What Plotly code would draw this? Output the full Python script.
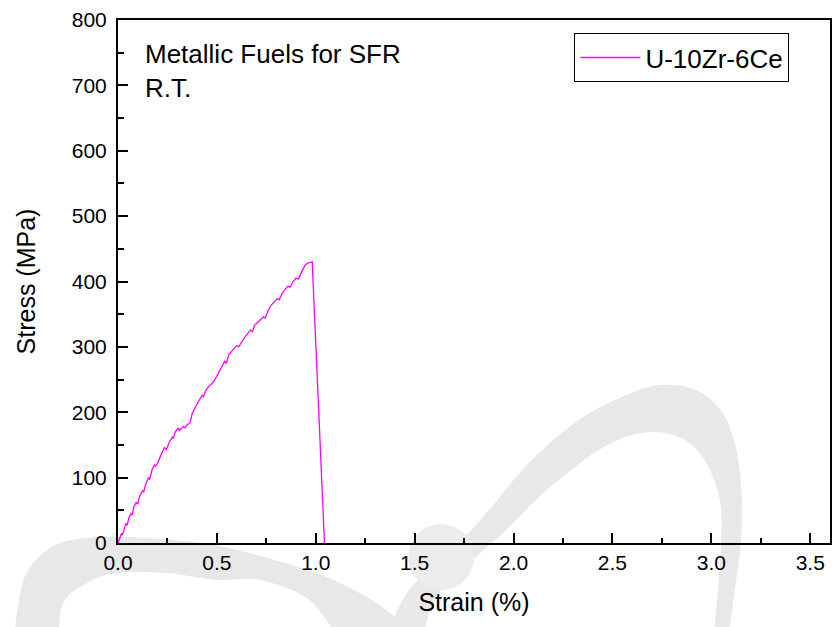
import plotly.graph_objects as go

# ---------------- data ----------------
strain = [0.000, 0.010, 0.018, 0.022, 0.030, 0.040, 0.046, 0.055, 0.065, 0.072,
          0.080, 0.092, 0.100, 0.110, 0.125, 0.130, 0.140, 0.155, 0.160, 0.172,
          0.185, 0.190, 0.200, 0.210, 0.222, 0.235, 0.245, 0.260, 0.275, 0.280,
          0.290, 0.305, 0.310, 0.330, 0.340, 0.350, 0.365, 0.375, 0.385, 0.395,
          0.410, 0.425, 0.432, 0.445, 0.460, 0.475, 0.490, 0.505, 0.520, 0.540,
          0.548, 0.560, 0.580, 0.600, 0.610, 0.625, 0.640, 0.655, 0.670, 0.680,
          0.690, 0.705, 0.720, 0.735, 0.745, 0.760, 0.775, 0.790, 0.805, 0.815,
          0.830, 0.845, 0.860, 0.870, 0.885, 0.900, 0.912, 0.925, 0.935, 0.945,
          0.960, 0.975, 0.982, 1.044]
stress = [0, 8, 15, 12, 22, 30, 27, 38, 45, 43,
          55, 62, 60, 72, 80, 78, 90, 100, 97, 112,
          120, 117, 122, 130, 138, 146, 143, 155, 162, 160,
          170, 176, 172, 178, 176, 181, 184, 198, 203, 210,
          218, 226, 224, 234, 240, 244, 250, 258, 266, 278,
          275, 288, 295, 302, 300, 308, 314, 320, 326, 323,
          333, 337, 341, 346, 344, 356, 364, 369, 374, 372,
          382, 388, 393, 391, 400, 405, 404, 412, 420, 425,
          428, 430, 430, 0]

series_name = "U-10Zr-6Ce"
x_ticks = [0.0, 0.5, 1.0, 1.5, 2.0, 2.5, 3.0, 3.5]
y_ticks = [0, 100, 200, 300, 400, 500, 600, 700, 800]

# ---------------- layout geometry ----------------
W, H = 834, 627
L, R, T, B = 118, 2, 20, 84
PW, PH = W - L - R, H - T - B

def to_paper(pts):
    return [((px - L) / PW, (T + PH - py) / PH) for px, py in pts]

def smooth_path(pts):
    p = to_paper(pts)
    n = len(p)
    d = f"M {p[0][0]:.4f},{p[0][1]:.4f}"
    for i in range(n):
        p0, p1, p2, p3 = p[(i - 1) % n], p[i], p[(i + 1) % n], p[(i + 2) % n]
        c1 = (p1[0] + (p2[0] - p0[0]) / 6, p1[1] + (p2[1] - p0[1]) / 6)
        c2 = (p2[0] - (p3[0] - p1[0]) / 6, p2[1] - (p3[1] - p1[1]) / 6)
        d += f" C {c1[0]:.4f},{c1[1]:.4f} {c2[0]:.4f},{c2[1]:.4f} {p2[0]:.4f},{p2[1]:.4f}"
    return d + " Z"

# watermark (faint logo) outlines in pixel space
orbit_right = [(385, 650), (405, 597), (435, 565), (460, 543), (490, 510), (530, 463),
               (580, 420), (630, 394), (662, 385), (695, 389), (721, 408), (736, 441),
               (743, 487), (743, 537), (737, 587), (727, 650),
               (715, 650), (720, 587), (723, 537), (722, 503), (713, 473), (698, 449),
               (678, 436), (653, 432), (627, 437), (600, 450), (570, 472), (540, 497),
               (507, 530), (477, 557), (437, 597), (417, 650)]
orbit_left = [(17, 650), (20, 593), (33, 563), (60, 543), (100, 537), (150, 538),
              (200, 543), (250, 553), (327, 577), (387, 610), (425, 650),
              (355, 650), (310, 600), (260, 580), (217, 580), (167, 573),
              (117, 573), (87, 583), (63, 603), (53, 650)]

wm = "#e8e8e8"
shapes = [
    dict(type="path", path=smooth_path(orbit_right), xref="paper", yref="paper",
         fillcolor=wm, line=dict(width=0), layer="below"),
    dict(type="path", path=smooth_path(orbit_left), xref="paper", yref="paper",
         fillcolor=wm, line=dict(width=0), layer="below"),
]
cx, cy, r = 442, 557, 33
(x0, y0), (x1, y1) = to_paper([(cx - r, cy + r), (cx + r, cy - r)])
shapes.append(dict(type="circle", xref="paper", yref="paper", x0=x0, y0=y0, x1=x1, y1=y1,
                   fillcolor="#ececec", line=dict(width=0), layer="below"))

fig = go.Figure()
fig.add_trace(go.Scatter(x=strain, y=stress, mode="lines", name=series_name,
                         line=dict(color="#ff00ff", width=1.3)))

FONT = "Liberation Sans, Arial, sans-serif"
axis_common = dict(showgrid=False, zeroline=False, showline=True, linecolor="black",
                   linewidth=2, mirror=True, ticks="inside", ticklen=10, tickwidth=2,
                   tickcolor="black", tickfont=dict(family=FONT, size=21, color="black"),
                   title_font=dict(family=FONT, size=25, color="black"))

fig.update_xaxes(range=[0, 3.6], tickvals=x_ticks, ticktext=[f"{v:.1f}" for v in x_ticks],
                 minor=dict(ticks="inside", ticklen=5, tickwidth=2, tickcolor="black", dtick=0.25),
                 title_text="Strain (%)", title_standoff=20, **axis_common)
fig.update_yaxes(range=[0, 800], tickvals=y_ticks, ticklabelstandoff=5,
                 minor=dict(ticks="inside", ticklen=6, tickwidth=2, tickcolor="black", dtick=50),
                 title_text="Stress (MPa)", title_standoff=29, **axis_common)

fig.update_layout(
    width=W, height=H,
    margin=dict(l=L, r=R, t=T, b=B),
    paper_bgcolor="white", plot_bgcolor="rgba(0,0,0,0)",
    font=dict(family=FONT, color="black"),
    shapes=shapes,
    showlegend=True,
    hovermode=False,
    legend=dict(x=0.641, y=0.975, xanchor="left", yanchor="top",
                bordercolor="black", borderwidth=1, bgcolor="white",
                font=dict(family=FONT, size=26, color="black"),
                itemwidth=60, tracegroupgap=0),
    annotations=[dict(text="Metallic Fuels for SFR<br>R.T.", x=0.035, y=0.968,
                      xref="paper", yref="paper", xanchor="left", yanchor="top",
                      align="left", showarrow=False,
                      font=dict(family=FONT, size=26, color="black"))],
)

fig.write_html(
    "out.html",
    config={"displayModeBar": False, "staticPlot": True},
    post_script="document.body.style.margin='0';document.body.style.overflow='hidden';"
                "document.documentElement.style.overflow='hidden';",
)
